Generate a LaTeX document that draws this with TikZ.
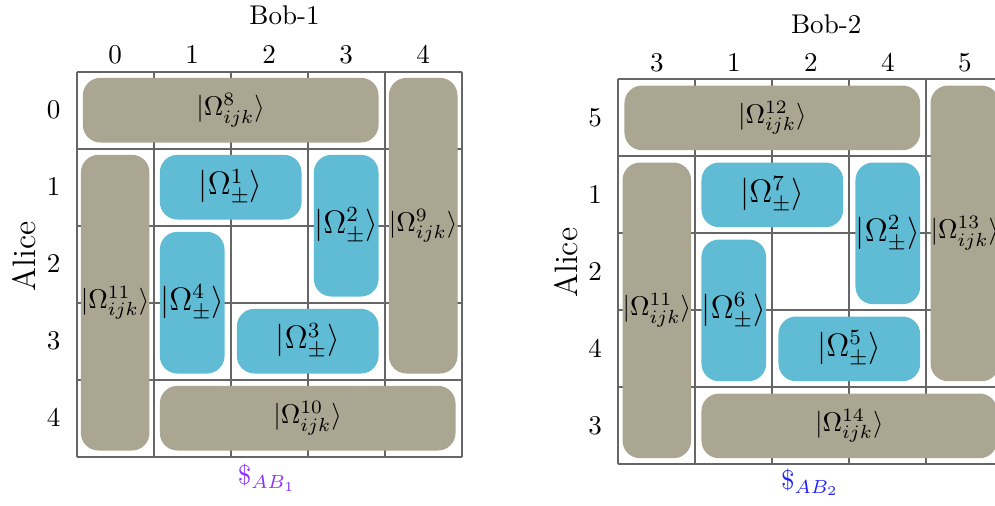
\documentclass[tikz,border=0pt]{standalone}
\usepackage{tikz}
\usetikzlibrary{positioning}
\usetikzlibrary{calc}
\definecolor{stategray}{RGB}{171,166,146}
\definecolor{stateblue}{RGB}{96,187,212}
\definecolor{payviolet}{RGB}{140,50,255}
\definecolor{payblue}{RGB}{35,35,255}
\tikzstyle{gridline}=[draw=black!60,line width=0.8pt]
\tikzstyle{graybox}=[rectangle,rounded corners=6.5pt,fill=stategray,inner sep=0pt]
\tikzstyle{bluebox}=[rectangle,rounded corners=6.5pt,fill=stateblue,inner sep=0pt,font=\large]
\tikzstyle{tick}=[font=\normalsize]
\begin{document}
\begin{tikzpicture}[x=1cm,y=1cm]
  \useasboundingbox (-0.996,-0.640) rectangle (11.926,5.931);

  \def\gap{0.16};

  % Bob-1 table
  \def\dx{0};
  \def\dy{0};
  \draw[gridline,shift={(\dx,\dy)}] (0,0) grid (5,5);

  \foreach \x/\y/\w/\h/\name/\label in {0/4/4/1/L8/8, 4/1/1/4/L9/9, 1/0/4/1/L10/10, 0/0/1/4/L11/11}
    \node[graybox,minimum width={(\w-\gap)*1cm},minimum height={(\h-\gap)*1cm}] (\name)
      at (\dx+\x+\w/2, \dy+\y+\h/2) {$|\Omega^{\label}_{ijk}\rangle$};
  \foreach \x/\y/\w/\h/\name/\label in {1/3/2/1/L1/1, 3/2/1/2/L2/2, 2/1/2/1/L3/3, 1/1/1/2/L4/4}
    \node[bluebox,minimum width={(\w-\gap)*1cm},minimum height={(\h-\gap)*1cm}] (\name)
      at (\dx+\x+\w/2, \dy+\y+\h/2) {$|\Omega^{\label}_{\pm}\rangle$};

  \foreach \i/\t in {0/0, 1/1, 2/2, 3/3, 4/4}
    \node[tick] (lcol\i) at (\dx+\i+0.5, \dy+5.22) {$\t$};
  \foreach \i/\t in {0/0, 1/1, 2/2, 3/3, 4/4}
    \node[tick] (lrow\i) at (\dx-0.3, \dy+4.5-\i) {$\t$};

  \node[anchor=base] (bob1) at (\dx+2.7, \dy+5.61) {Bob-1};
  \node[rotate=90, font=\large] (alice1) at (\dx-0.68, \dy+2.6) {Alice};
  \node[anchor=base, text=payviolet] (pay1) at (\dx+2.47, \dy-0.36) {$\$_{AB_1}$};

  % Bob-2 table
  \def\dx{7.034};
  \def\dy{-0.1};
  \draw[gridline,shift={(\dx,\dy)}] (0,0) grid (5,5);

  \foreach \x/\y/\w/\h/\name/\label in {0/4/4/1/R12/12, 4/1/1/4/R13/13, 1/0/4/1/R14/14, 0/0/1/4/R11/11}
    \node[graybox,minimum width={(\w-\gap)*1cm},minimum height={(\h-\gap)*1cm}] (\name)
      at (\dx+\x+\w/2, \dy+\y+\h/2) {$|\Omega^{\label}_{ijk}\rangle$};
  \foreach \x/\y/\w/\h/\name/\label in {1/3/2/1/R7/7, 3/2/1/2/R2/2, 2/1/2/1/R5/5, 1/1/1/2/R6/6}
    \node[bluebox,minimum width={(\w-\gap)*1cm},minimum height={(\h-\gap)*1cm}] (\name)
      at (\dx+\x+\w/2, \dy+\y+\h/2) {$|\Omega^{\label}_{\pm}\rangle$};

  \foreach \i/\t in {0/3, 1/1, 2/2, 3/4, 4/5}
    \node[tick] (rcol\i) at (\dx+\i+0.5, \dy+5.22) {$\t$};
  \foreach \i/\t in {0/5, 1/1, 2/2, 3/4, 4/3}
    \node[tick] (rrow\i) at (\dx-0.3, \dy+4.5-\i) {$\t$};

  \node[anchor=base] (bob2) at (\dx+2.7, \dy+5.6) {Bob-2};
  \node[rotate=90, font=\large] (alice2) at (\dx-0.68, \dy+2.62) {Alice};
  \node[anchor=base, text=payblue] (pay2) at (\dx+2.49, \dy-0.32) {$\$_{AB_2}$};

\end{tikzpicture}
\end{document}
